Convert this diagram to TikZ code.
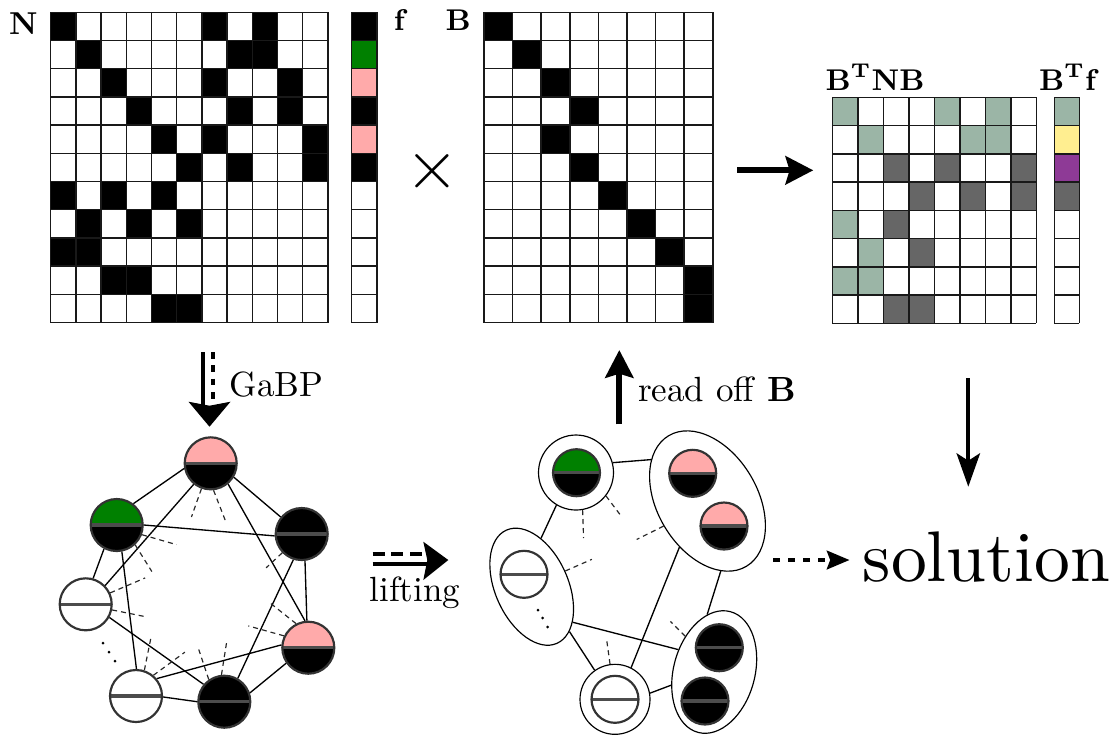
\documentclass[tikz,border=0pt]{standalone}
\usepackage{fontspec}
\newfontfamily\lmten{lmroman10-regular}[Extension=.otf]
\usetikzlibrary{arrows.meta,shapes.geometric,calc}
\definecolor{pinkc}{RGB}{255,170,170}
\definecolor{greenc}{RGB}{0,128,0}
\definecolor{sagec}{RGB}{155,181,166}
\definecolor{yellowc}{RGB}{255,238,144}
\definecolor{purplec}{RGB}{142,58,150}
\definecolor{darkc}{RGB}{102,102,102}
\begin{document}
\begin{tikzpicture}[x=0.3pt,y=-0.3pt,
  gridline/.style={draw=black!90, line width=0.45pt},
  vnode/.style 2 args={circle, inner sep=0pt, minimum size=15.6pt, draw=black!80, line width=0.65pt,
     path picture={
       \fill[#1] (path picture bounding box.north west) rectangle (path picture bounding box.east);
       \fill[#2] (path picture bounding box.west) rectangle (path picture bounding box.south east);
       \draw[black!70, line width=1pt] (path picture bounding box.west) -- (path picture bounding box.east);}},
  smallv/.style={minimum size=14.1pt},
  ringc/.style={circle, draw, line width=0.35pt, inner sep=0pt},
  grp/.style={ellipse, draw, line width=0.35pt, inner sep=0pt},
  link/.style={draw, line width=0.4pt},
  stub/.style={draw=black!85, line width=0.35pt, dash pattern=on 1.5pt off 1.2pt},
  lbl/.style={inner sep=0pt, font=\fontsize{9}{10}\selectfont\bfseries},
  txt/.style={inner sep=0pt, font=\fontsize{10.5}{12}\selectfont},
  bigarrow/.style={line width=1.8pt, -{Stealth[length=8.3pt, width=8.4pt, inset=1.2pt]}},
  thinarrow/.style={line width=1.2pt, -{Stealth[length=10pt, width=7pt, inset=2.2pt]}},
  dasharrow/.style={line width=1.1pt, dash pattern=on 2.2pt off 2.3pt, -{Stealth[length=6.8pt, width=5.6pt, inset=1pt]}},
  dualsolid/.style={line width=1.2pt},
  dualdash/.style={line width=1.2pt, dash pattern=on 2pt off 2pt},
  liftdash/.style={line width=1.2pt, dash pattern=on 3.6pt off 2pt}
]
\useasboundingbox (0,0) rectangle (1118,737);

% ---------------- matrix N ----------------
\foreach \r/\cl in {1/{1,7,9},2/{2,8,9},3/{3,7,10},4/{4,8,10},5/{5,7,11},6/{6,8,11},7/{1,3,5},8/{2,4,6},9/{1,2},10/{3,4},11/{5,6}}
  \foreach \c in \cl
    \fill[black] ({50.7+(\c-1)*25.2},{12.3+(\r-1)*28.2}) rectangle ++(25.2,28.2);
\foreach \i in {0,...,11} \draw[gridline] ({50.7+\i*25.2},12.3) -- ({50.7+\i*25.2},322.5);
\foreach \j in {0,...,11} \draw[gridline] (50.7,{12.3+\j*28.2}) -- (327.9,{12.3+\j*28.2});

% ---------------- vector f ----------------
\foreach \r/\col in {1/black,2/greenc,3/pinkc,4/black,5/pinkc,6/black}
  \fill[\col] (351.7,{12.3+(\r-1)*28.2}) rectangle ++(25.3,28.2);
\foreach \i in {0,1} \draw[gridline] ({351.7+\i*25.3},12.3) -- ({351.7+\i*25.3},322.5);
\foreach \j in {0,...,11} \draw[gridline] (351.7,{12.3+\j*28.2}) -- (377,{12.3+\j*28.2});

% ---------------- matrix B ----------------
\foreach \r/\c in {1/1,2/2,3/3,4/4,5/3,6/4,7/5,8/6,9/7,10/8,11/8}
  \fill[black] ({484+(\c-1)*28.6},{12.3+(\r-1)*28.2}) rectangle ++(28.6,28.2);
\foreach \i in {0,...,8} \draw[gridline] ({484+\i*28.6},12.3) -- ({484+\i*28.6},322.5);
\foreach \j in {0,...,11} \draw[gridline] (484,{12.3+\j*28.2}) -- (712.8,{12.3+\j*28.2});

% ---------------- matrix B^T N B ----------------
\foreach \r/\c in {1/1,1/5,1/7,2/2,2/6,2/7,5/1,6/2,7/1,7/2}
  \fill[sagec] ({832.3+(\c-1)*25.5},{97.3+(\r-1)*28.25}) rectangle ++(25.5,28.25);
\foreach \r/\c in {3/3,3/5,3/8,4/4,4/6,4/8,5/3,6/4,8/3,8/4}
  \fill[darkc] ({832.3+(\c-1)*25.5},{97.3+(\r-1)*28.25}) rectangle ++(25.5,28.25);
\foreach \i in {0,...,8} \draw[gridline] ({832.3+\i*25.5},97.3) -- ({832.3+\i*25.5},323.3);
\foreach \j in {0,...,8} \draw[gridline] (832.3,{97.3+\j*28.25}) -- (1036.3,{97.3+\j*28.25});

% ---------------- vector B^T f ----------------
\foreach \r/\col in {1/sagec,2/yellowc,3/purplec,4/darkc}
  \fill[\col] (1054.3,{97.3+(\r-1)*28.25}) rectangle ++(25,28.25);
\foreach \i in {0,1} \draw[gridline] ({1054.3+\i*25},97.3) -- ({1054.3+\i*25},323.3);
\foreach \j in {0,...,8} \draw[gridline] (1054.3,{97.3+\j*28.25}) -- (1079.3,{97.3+\j*28.25});

% ---------------- labels ----------------
\node[lbl, font=\fontsize{9.5}{10}\selectfont\bfseries, anchor=base] (labN) at (23.3,34) {N};
\node[lbl, anchor=base] (labf) at (399.2,30) {f};
\node[lbl, anchor=base] (labB) at (458.3,30) {B};
\node[lbl, anchor=base] (labBNB) at (875,90.7) {B\textsuperscript{T}NB};
\node[lbl, anchor=base] (labBf) at (1067.5,90.7) {B\textsuperscript{T}f};
\node[inner sep=0pt, font=\fontsize{21}{21}\selectfont] (times) at (432,171) {$\times$};
\node[txt, anchor=base west] (gabp) at (229,396.7) {GaBP};
\node[txt, anchor=base west] (readoff) at (637.5,401.7) {read off \textbf{B}};
\node[txt, anchor=base] (lift) at (415,601.7) {lifting};
\node[inner sep=0pt, font=\lmten\fontsize{21.5}{24}\selectfont, anchor=base] (sol) at (986.5,581.7) {solution};

% ---------------- arrows ----------------
\coordinate (rA) at (737.3,170.3); \coordinate (rB) at (813.3,170.3);
\draw[bigarrow] (rA) -- (rB);
\coordinate (uA) at (619.3,424.3); \coordinate (uB) at (619.3,350);
\draw[bigarrow] (uA) -- (uB);
\coordinate (dA) at (968.3,378); \coordinate (dB) at (968.3,486.7);
\draw[thinarrow] (dA) -- (dB);
\coordinate (sA) at (773,560);
\draw[dasharrow, shorten >=3.8pt] (sA) -- (sA -| sol.west);

% GaBP double arrow
\coordinate (gS1) at (202.7,352); \coordinate (gE1) at (202.7,406);
\coordinate (gS2) at (213.3,352); \coordinate (gE2) at (213.3,402);
\coordinate (gT) at (209.5,426.7);
\draw[dualsolid] (gS1) -- (gE1);
\draw[dualdash] (gS2) -- (gE2);
\fill (gT) -- ++(-21,-25) -- ++(21,4) -- ++(21,-4) -- cycle;

% lifting double arrow
\coordinate (lA) at (372.7,553.5); \coordinate (lB) at (428,553.5);
\coordinate (lC) at (372.7,564); \coordinate (lD) at (430,564);
\coordinate (lT) at (448.3,560);
\draw[liftdash] (lA) -- (lB);
\draw[dualsolid] (lC) -- (lD);
\fill (lT) -- ++(-25,-18.3) -- ++(4,18.3) -- ++(-4,20) -- cycle;

% ---------------- left graph ----------------
\node[vnode={pinkc}{black}] (p1) at (210.7,463.3) {};
\node[vnode={greenc}{black}] (g1) at (116.7,525) {};
\node[vnode={black}{black}] (k1) at (301.7,534) {};
\node[vnode={white}{white}] (w1) at (85.7,604.3) {};
\node[vnode={pinkc}{black}] (p2) at (308.3,647.7) {};
\node[vnode={white}{white}] (w2) at (136,696) {};
\node[vnode={black}{black}] (k2) at (224.3,701.7) {};

\draw[link] (p1.191) -- (g1.52);
\draw[link] (p1.-31) -- (k1.141);
\draw[link] (p1.231) -- (w1.44);
\draw[link] (p1.-50) -- (p2.97);
\draw[link] (g1.0) -- (k1.184);
\draw[link] (g1.-118) -- (w1.74);
\draw[link] (g1.-79) -- (w2.89);
\draw[link] (k1.-83) -- (p2.93);
\draw[link] (k1.-108) -- (k2.60);
\draw[link] (w1.-29) -- (k2.140);
\draw[link] (p2.174) -- (w2.40);
\draw[link] (p2.215) -- (k2.19);
\draw[link] (w2.-2) -- (k2.180);

\draw[stub] (p1.-110.6) -- ++(109.5:30);
\draw[stub] (p1.-84.8) -- ++(68.7:32);
\draw[stub] (g1.-21.8) -- ++(16:36);
\draw[stub] (g1.-47.2) -- ++(58:31.5);
\draw[stub] (w1.25.9) -- ++(-23.2:38);
\draw[stub] (w1.-12.4) -- ++(11.4:34);
\draw[stub] (k1.224) -- ++(-223:22);
\draw[stub] (p2.117) -- ++(-141.5:35);
\draw[stub] (p2.154.7) -- ++(-164.4:37);
\draw[stub] (w2.72) -- ++(-78.6:34);
\draw[stub] (w2.50) -- ++(-36.3:39);
\draw[stub] (k2.125) -- ++(-108.4:31.6);
\draw[stub] (k2.96) -- ++(-81:32);

\fill (103,643) circle[radius=0.45pt];
\fill (109,652) circle[radius=0.45pt];
\fill (115,661) circle[radius=0.45pt];

% ---------------- middle (lifted) graph ----------------
\node[ringc, minimum size=22.5pt] (gO) at (576,472.5) {};
\node[vnode={greenc}{black}, smallv] (g3) at (576.5,472.7) {};
\node[grp, minimum width=45.6pt, minimum height=30pt, rotate=-59.3] (pE) at (707.5,501) {};
\node[vnode={pinkc}{black}, smallv] (p3) at (692.7,473.3) {};
\node[vnode={pinkc}{black}, smallv] (p4) at (724,526) {};
\node[grp, minimum width=37.2pt, minimum height=21.9pt, rotate=-65.9] (wE) at (531.7,586.7) {};
\node[vnode={white}{white}, smallv] (w3) at (524,574.3) {};
\node[ringc, minimum size=21pt] (bO) at (615,699.3) {};
\node[vnode={white}{white}, smallv] (w4) at (615,699.3) {};
\node[grp, minimum width=37.5pt, minimum height=24.4pt, rotate=75] (kE) at (714.2,672) {};
\node[vnode={black}{black}, smallv] (k3) at (719.3,647.7) {};
\node[vnode={black}{black}, smallv] (k4) at (705,701) {};

\fill (538,610) circle[radius=0.45pt];
\fill (542.7,618) circle[radius=0.45pt];
\fill (547.7,627) circle[radius=0.45pt];

\draw[link] (gO.15) -- (pE.203);
\draw[link] (gO.239) -- (wE.145);
\draw[link] (wE.16) -- (bO.125);
\draw[link] (wE.25) -- (kE.73);
\draw[link] (pE.298) -- (bO.63);
\draw[link] (pE.340) -- (kE.22);
\draw[link] (bO.10) -- (kE.122);

\draw[stub] (gO.-38) -- ++(53:25);
\draw[stub] (gO.-80) -- ++(88:28);
\draw[stub] (pE.-91) -- ++(153.5:30);
\draw[stub] (wE.91) -- ++(-23.7:29);
\draw[stub] (bO.98) -- ++(-98:23);
\draw[stub] (kE.54) -- ++(-135:21);
\end{tikzpicture}
\end{document}
